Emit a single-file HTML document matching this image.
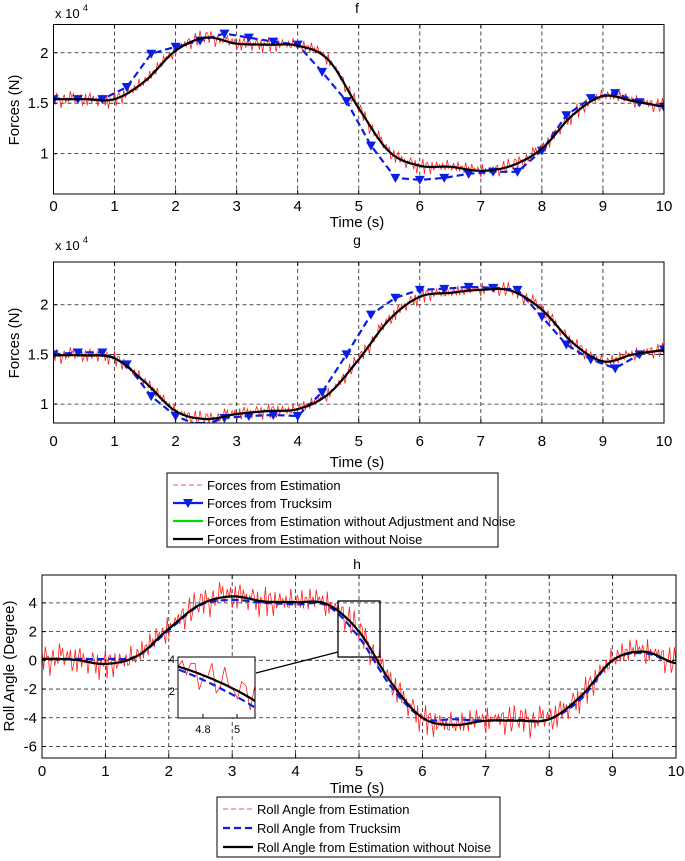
<!DOCTYPE html>
<html><head><meta charset="utf-8"><style>
body{margin:0;background:#fff}
svg{display:block;font-family:"Liberation Sans",sans-serif}
</style></head><body>
<svg id="c" width="685" height="861"></svg>
<script>
// ---- data (forces in 1e4 N, angle in degrees) ----
const knotTimes=[0,0.5,1,1.5,2,2.5,3,3.5,4,4.5,5,5.5,6,6.5,7,7.5,8,8.5,9,9.5,10];
const fSmooth=[1.54,1.54,1.54,1.72,2.02,2.15,2.09,2.08,2.07,1.93,1.45,1.02,0.88,0.87,0.83,0.88,1.05,1.38,1.57,1.52,1.47];
const gSmooth=[1.49,1.49,1.46,1.22,0.93,0.85,0.9,0.93,0.95,1.1,1.45,1.85,2.08,2.12,2.15,2.14,1.95,1.62,1.43,1.5,1.54];
const hSmooth=[0.1,0.05,-0.25,0.3,2.2,3.9,4.45,4.1,4.05,3.9,2.0,-1.5,-4.0,-4.5,-4.2,-4.2,-4.1,-2.5,0.0,0.6,-0.2];
const hTrucksim=[0.1,0.1,0.1,0.3,2.1,3.85,4.2,4.0,3.9,3.8,1.6,-1.8,-4.0,-4.1,-4.2,-4.15,-4.1,-2.7,0.0,0.5,-0.2];
const markerTimes=[0,0.4,0.8,1.2,1.6,2.0,2.4,2.8,3.2,3.6,4.0,4.4,4.8,5.2,5.6,6.0,6.4,6.8,7.2,7.6,8.0,8.4,8.8,9.2,9.6,10];
const fTrucksim=[1.54,1.54,1.54,1.66,1.99,2.06,2.12,2.19,2.15,2.11,2.08,1.81,1.52,1.08,0.76,0.74,0.76,0.80,0.82,0.82,1.03,1.38,1.55,1.60,1.51,1.46];
const gTrucksim=[1.5,1.52,1.52,1.4,1.08,0.88,0.78,0.86,0.88,0.89,0.88,1.12,1.5,1.9,2.07,2.15,2.16,2.18,2.17,2.15,1.88,1.6,1.45,1.36,1.5,1.55];
const jitter=[0.3,-0.5,0.8,-0.2,0.6,-0.9,0.1,0.7,-0.4,0.5,-0.7,0.9,-0.1,0.4,-0.8,0.2,0.6,-0.3,0.8,-0.6,0.0,0.7,-0.9,0.3,0.5,-0.2,0.9,-0.5,0.1,-0.7,0.6,-0.3,0.4,0.8,-0.6,0.2,-0.9,0.5,0.1,-0.4,0.7,-0.8,0.3,0.6,-0.1,-0.7,0.9,-0.3,0.2,0.5,-0.6,0.8,-0.2,0.4,-0.9,0.1,0.7,-0.5,0.3,-0.8,0.6,0.0,-0.4,0.9,-0.6,0.2,0.5,-0.7,0.8,-0.1,0.3,-0.9,0.6,-0.2,0.7,-0.5,0.1,0.4,-0.8,0.9,-0.3,0.2,-0.6,0.5,0.8,-0.4,0.0,-0.7,0.6,0.3,-0.9,0.4,-0.1,0.7,-0.5,0.2,0.9,-0.6,0.1,-0.3,0.5];
const xTicks=[0,1,2,3,4,5,6,7,8,9,10];
const fyTicks=[1,1.5,2];
const hyTicks=[-6,-4,-2,0,2,4];

const NS='http://www.w3.org/2000/svg';
const svg=document.getElementById('c');
function el(tag,attrs,parent){const e=document.createElementNS(NS,tag);for(const k in attrs)e.setAttribute(k,attrs[k]);(parent||svg).appendChild(e);return e;}
function txt(s,x,y,attrs,parent){const e=el('text',Object.assign({x:x,y:y},attrs||{}),parent);e.textContent=s;return e;}
function interp(ts,vs,t){let i=0;while(i<ts.length-2&&t>ts[i+1])i++;
 const t0=ts[i],t1=ts[i+1],u=(t-t0)/(t1-t0);
 const p0=vs[Math.max(i-1,0)],p1=vs[i],p2=vs[i+1],p3=vs[Math.min(i+2,vs.length-1)];
 const m1=(p2-p0)/2,m2=(p3-p1)/2,u2=u*u,u3=u2*u;
 return (2*u3-3*u2+1)*p1+(u3-2*u2+u)*m1+(-2*u3+3*u2)*p2+(u3-u2)*m2;}
let clipN=0;
function panel(o){
 const g=el('g',{},svg);
 
 
 const sx=t=>o.x0+(t-o.xmin)/(o.xmax-o.xmin)*(o.x1-o.x0);
 const sy=v=>o.yb-(v-o.ymin)/(o.ymax-o.ymin)*(o.yb-o.yt);
 const id='clip'+(clipN++);
 const cp=el('clipPath',{id:id},g);el('rect',{x:o.x0,y:o.yt,width:o.x1-o.x0,height:o.yb-o.yt},cp);
 el('rect',{x:o.x0,y:o.yt,width:o.x1-o.x0,height:o.yb-o.yt,fill:'#fff'},g);
 const grid=el('g',{stroke:'#222','stroke-width':0.8,'stroke-dasharray':'4,3'},g);
 
 (o.xt||[]).forEach(t=>{if(t>o.xmin&&t<o.xmax)el('line',{x1:sx(t),x2:sx(t),y1:o.yt,y2:o.yb},grid);});
 (o.yts||[]).forEach(v=>el('line',{x1:o.x0,x2:o.x1,y1:sy(v),y2:sy(v)},grid));
 const pl=el('g',{'clip-path':'url(#'+id+')'},g);
 o.series.forEach(s=>{
  let pts=[];
  if(s.type==='noise'){for(let i=0;i<=400;i++){const t=i*0.025;const j=jitter[i%jitter.length]+0.6*jitter[(i*3+7)%jitter.length];pts.push([t,interp(knotTimes,s.base,t)+s.amp*j*0.75]);}}
  else if(s.type==='smooth'){for(let i=0;i<=400;i++){const t=i*0.025;pts.push([t,interp(knotTimes,s.vals,t)]);}}
  else pts=s.ts.map((t,i)=>[t,s.vals[i]]);
  const p=el('path',{d:'M'+pts.map(q=>sx(q[0]).toFixed(1)+','+sy(q[1]).toFixed(1)).join('L'),fill:'none',stroke:s.color,'stroke-width':s.w,'stroke-dasharray':s.dash||'none'},pl);
  
  if(s.markers){pts.forEach(q=>{const x=sx(q[0]),y=sy(q[1]);
   const m=el('path',{d:`M${x-5},${y-4}L${x+5},${y-4}L${x},${y+5}Z`,fill:s.color},pl);
   });}
 });
 el('rect',{x:o.x0,y:o.yt,width:o.x1-o.x0,height:o.yb-o.yt,fill:'none',stroke:'#000','stroke-width':1},g);
 if(o.ticks!==false){
 (o.xt||[]).forEach(t=>{const x=sx(t);el('line',{x1:x,x2:x,y1:o.yb,y2:o.yb-4,stroke:'#000'},g);el('line',{x1:x,x2:x,y1:o.yt,y2:o.yt+4,stroke:'#000'},g);
  const l=txt(String(t),x,o.yb+o.xlOff,{'font-size':o.fs,'text-anchor':'middle'},g);});
 (o.yts||[]).forEach(v=>{const y=sy(v);el('line',{x1:o.x0,x2:o.x0+4,y1:y,y2:y,stroke:'#000'},g);el('line',{x1:o.x1,x2:o.x1-4,y1:y,y2:y,stroke:'#000'},g);
  const l=txt(String(v),o.x0-5,y+5,{'font-size':o.fs,'text-anchor':'end'},g);});
 }
 return {sx,sy};
}
function labels(title,tx,ty,ylab,yx,yy,xly,x10y){
 let e=txt(title,tx,ty,{'font-size':14,'text-anchor':'middle'});
 e=txt(ylab,0,0,{'font-size':15,'text-anchor':'middle',transform:`translate(${yx},${yy}) rotate(-90)`});
 e=txt('Time (s)',tx,xly,{'font-size':15,'text-anchor':'middle'});
 if(x10y){e=txt('x 10',55,x10y,{'font-size':13});
  const s=txt('4',83,x10y-7,{'font-size':9});}
}
const red='#ff2020',blue='#0a1ee6';
panel({name:'panel-f',x0:53.5,x1:664,yt:24.5,yb:194,xmin:0,xmax:10,ymin:0.6,ymax:2.28,xt:xTicks,yts:fyTicks,fs:15,xlOff:17,
 series:[{type:'noise',base:fSmooth,amp:0.08,color:red,w:0.8,name:'estimation-line'},
  {type:'pts',ts:markerTimes,vals:fTrucksim,color:blue,w:2.2,dash:'7,4',markers:true,name:'trucksim-line'},
  {type:'smooth',vals:fSmooth,color:'#000',w:2.2,name:'estimation-without-noise-line'}]});
labels('f',357,13,'Forces (N)',19,110,227,18);
panel({name:'panel-g',x0:53.5,x1:664,yt:262,yb:423,xmin:0,xmax:10,ymin:0.81,ymax:2.43,xt:xTicks,yts:fyTicks,fs:15,xlOff:23,
 series:[{type:'noise',base:gSmooth,amp:0.08,color:red,w:0.8,name:'estimation-line'},
  {type:'pts',ts:markerTimes,vals:gTrucksim,color:blue,w:2.2,dash:'7,4',markers:true,name:'trucksim-line'},
  {type:'smooth',vals:gSmooth,color:'#000',w:2.2,name:'estimation-without-noise-line'}]});
labels('g',357,245,'Forces (N)',19,343,467,250);
panel({name:'panel-h',x0:42,x1:676,yt:575,yb:758,xmin:0,xmax:10,ymin:-6.8,ymax:5.94,xt:xTicks,yts:hyTicks,fs:15,xlOff:18,
 series:[{type:'noise',base:hSmooth,amp:1.1,color:red,w:0.8,name:'estimation-line'},
  {type:'smooth',vals:hTrucksim,color:blue,w:2.2,dash:'7,4',name:'trucksim-line'},
  {type:'smooth',vals:hSmooth,color:'#000',w:2.2,name:'estimation-without-noise-line'}]});
labels('h',357,569,'Roll Angle (Degree)',14,666,793,null);
// zoom rect & connector
let z=el('rect',{x:338,y:601,width:42,height:56,fill:'none',stroke:'#000','stroke-width':1.3});
z=el('line',{x1:256,y1:673,x2:338,y2:652,stroke:'#000','stroke-width':1.3});
panel({name:'inset-zoom',x0:178,x1:255,yt:657,yb:718,xmin:4.65,xmax:5.103,ymin:0.31,ymax:4.1,xt:[],yts:[],fs:11,xlOff:14,ticks:false,
 series:[{type:'noise',base:hSmooth,amp:1.1,color:red,w:0.8,name:'inset-estimation'},
  {type:'smooth',vals:hTrucksim,color:blue,w:2.2,dash:'7,4',name:'inset-trucksim'},
  {type:'smooth',vals:hSmooth,color:'#000',w:2.2,name:'inset-without-noise'}]});
[['4',175,663],['2',175,695]].forEach(a=>{const e=txt(a[0],a[1],a[2],{'font-size':11,'text-anchor':'end'});});
[['4.8',203,733],['5',237,733]].forEach(a=>{const e=txt(a[0],a[1],a[2],{'font-size':11,'text-anchor':'middle'});
 el('line',{x1:a[1],x2:a[1],y1:718,y2:714,stroke:'#000'});});
// legends
function legend(name,x,y,w,h,items){
 const g=el('g',{});
 el('rect',{x:x,y:y,width:w,height:h,fill:'#fff',stroke:'#000','stroke-width':1},g);
 items.forEach((it,i)=>{const yy=y+12+i*it[4];
  const e=el('g',{},g);
  el('line',{x1:x+6,x2:x+36,y1:yy,y2:yy,stroke:it[1],'stroke-width':it[2],'stroke-dasharray':it[3]||'none'},e);
  if(it[5])el('path',{d:`M${x+16},${yy-4}L${x+26},${yy-4}L${x+21},${yy+5}Z`,fill:it[1]},e);
  txt(it[0],x+40,yy+5,{'font-size':13},e);});
}
legend('legend-forces',167,473,331,74,[['Forces from Estimation',red,0.8,'5,3',18],['Forces from Trucksim',blue,2.2,null,18,true],['Forces from Estimation without Adjustment and Noise','#00dd00',2.2,null,18],['Forces from Estimation without Noise','#000',2.2,null,18]]);
legend('legend-roll',217,797,283,60,[['Roll Angle from Estimation',red,0.8,'5,3',19],['Roll Angle from Trucksim',blue,2.2,'7,4',19],['Roll Angle from Estimation without Noise','#000',2.2,null,19]]);
</script>
</body></html>
